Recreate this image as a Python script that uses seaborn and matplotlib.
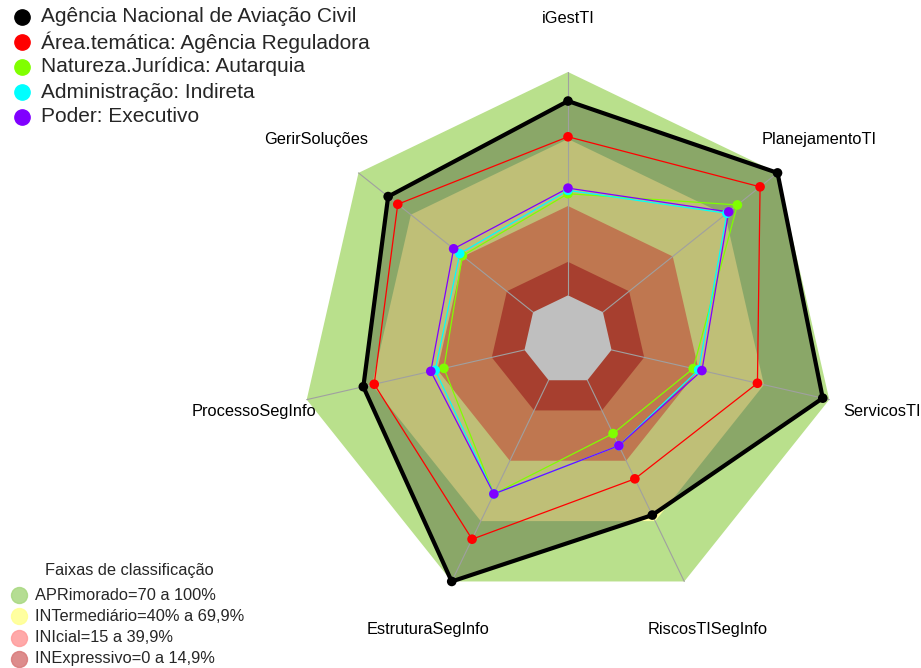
import numpy as np
import pandas as pd
import matplotlib
matplotlib.use('Agg')
import matplotlib.pyplot as plt
from matplotlib.lines import Line2D
import seaborn as sns

eixos = ['iGestTI', 'PlanejamentoTI', 'ServicosTI', 'RiscosTISegInfo',
         'EstruturaSegInfo', 'ProcessoSegInfo', 'GerirSoluções']

anac = [87, 100, 97, 67, 100, 74, 83]
area_tematica = [71, 90, 67, 49, 79, 69, 77.5]
natureza = [45.5, 77, 37.5, 26.5, 56.5, 37, 40.5]
administracao = [47, 71, 40, 32.5, 56.5, 41, 42]
poder = [48, 72, 41.5, 32.5, 56.5, 43, 45.5]

series_nomes = ['Agência Nacional de Aviação Civil',
                'Área.temática: Agência Reguladora',
                'Natureza.Jurídica: Autarquia',
                'Administração: Indireta',
                'Poder: Executivo']
series_valores = [anac, area_tematica, natureza, administracao, poder]
series_cores = ['#000000', '#ff0000', '#80ff00', '#00ffff', '#8000ff']

faixas_limites = [100, 70, 40, 15]
faixas_cores = ['#b9e08c', '#ffffa0', '#ffa06b', '#e05540']
faixas_nomes = ['APRimorado=70 a 100%', 'INTermediário=40% a 69,9%',
                'INIcial=15 a 39,9%', 'INExpressivo=0 a 14,9%']
faixas_legenda_cores = ['#a8d880', '#ffff90', '#ff9a9a', '#d87878']

W, H = 921, 668
hole = 1 / 6.0
n = len(eixos)
ang = np.pi / 2 - 2 * np.pi * np.arange(n) / n


def raio(v):
    return hole + (1 - hole) * np.asarray(v, dtype=float) / 100.0


def xy(vals):
    r = raio(vals)
    x = r * np.cos(ang)
    y = r * np.sin(ang)
    return np.append(x, x[0]), np.append(y, y[0])


def fig_pos(px, py):
    # pixel (from top-left) -> figure fraction
    return px / W, 1 - py / H


sns.set_theme(style='white')
plt.rcParams['font.family'] = ['Liberation Sans', 'DejaVu Sans']

fig = plt.figure(figsize=(W / 100, H / 100), dpi=100)
ax = fig.add_axes([0, 0, 1, 1])
ax.set_xlim(-568 / 268, (W - 568) / 268)
ax.set_ylim((340 - H) / 268, 340 / 268)
ax.axis('off')

# faixas de classificacao
for lim, cor in zip(faixas_limites, faixas_cores):
    x, y = xy([lim] * n)
    ax.fill(x, y, color=cor, lw=0, zorder=1)

# area da agencia (sombra)
x, y = xy(anac)
ax.fill(x, y, color='black', alpha=0.25, lw=0, zorder=2)

# centro
x, y = xy([0] * n)
ax.fill(x, y, color='#bfbfbf', lw=0, zorder=3)

# eixos
for a in ang:
    ax.plot([hole * np.cos(a), np.cos(a)], [hole * np.sin(a), np.sin(a)],
            color='#a0a0a0', lw=0.8, zorder=3)

# series
for nome, vals, cor in zip(series_nomes, series_valores, series_cores):
    x, y = xy(vals)
    lw = 3.0 if cor == '#000000' else 0.9
    ax.plot(x, y, color=cor, lw=lw, zorder=4)
    df = pd.DataFrame({'x': x[:-1], 'y': y[:-1]})
    sns.scatterplot(data=df, x='x', y='y', color=cor, s=48, edgecolor='none',
                    ax=ax, zorder=5, legend=False)

# rotulos
for nome, a in zip(eixos, ang):
    ax.text(1.2 * np.cos(a), 1.2 * np.sin(a), nome, ha='center', va='center',
            fontsize=11.8, color='black')

# legenda das series
for i, (nome, cor) in enumerate(zip(series_nomes, series_cores)):
    py = 17 + 25 * i
    fig.add_artist(Line2D([fig_pos(22, py)[0]], [fig_pos(22, py)[1]], marker='o', ls='',
                          color=cor, markersize=11, transform=fig.transFigure))
    fig.text(*fig_pos(41, py), nome, ha='left', va='center', fontsize=15)

# legenda das faixas
fig.text(*fig_pos(129, 571), 'Faixas de classificação', ha='center', va='center',
         fontsize=11.8)
for i, (nome, cor) in enumerate(zip(faixas_nomes, faixas_legenda_cores)):
    py = 595 + 21.3 * i
    fig.add_artist(Line2D([fig_pos(19, py)[0]], [fig_pos(19, py)[1]], marker='o', ls='',
                          color=cor, markersize=11.5, alpha=0.85,
                          transform=fig.transFigure))
    fig.text(*fig_pos(35, py), nome, ha='left', va='center', fontsize=11.8)

fig.savefig('out.png', dpi=100)
